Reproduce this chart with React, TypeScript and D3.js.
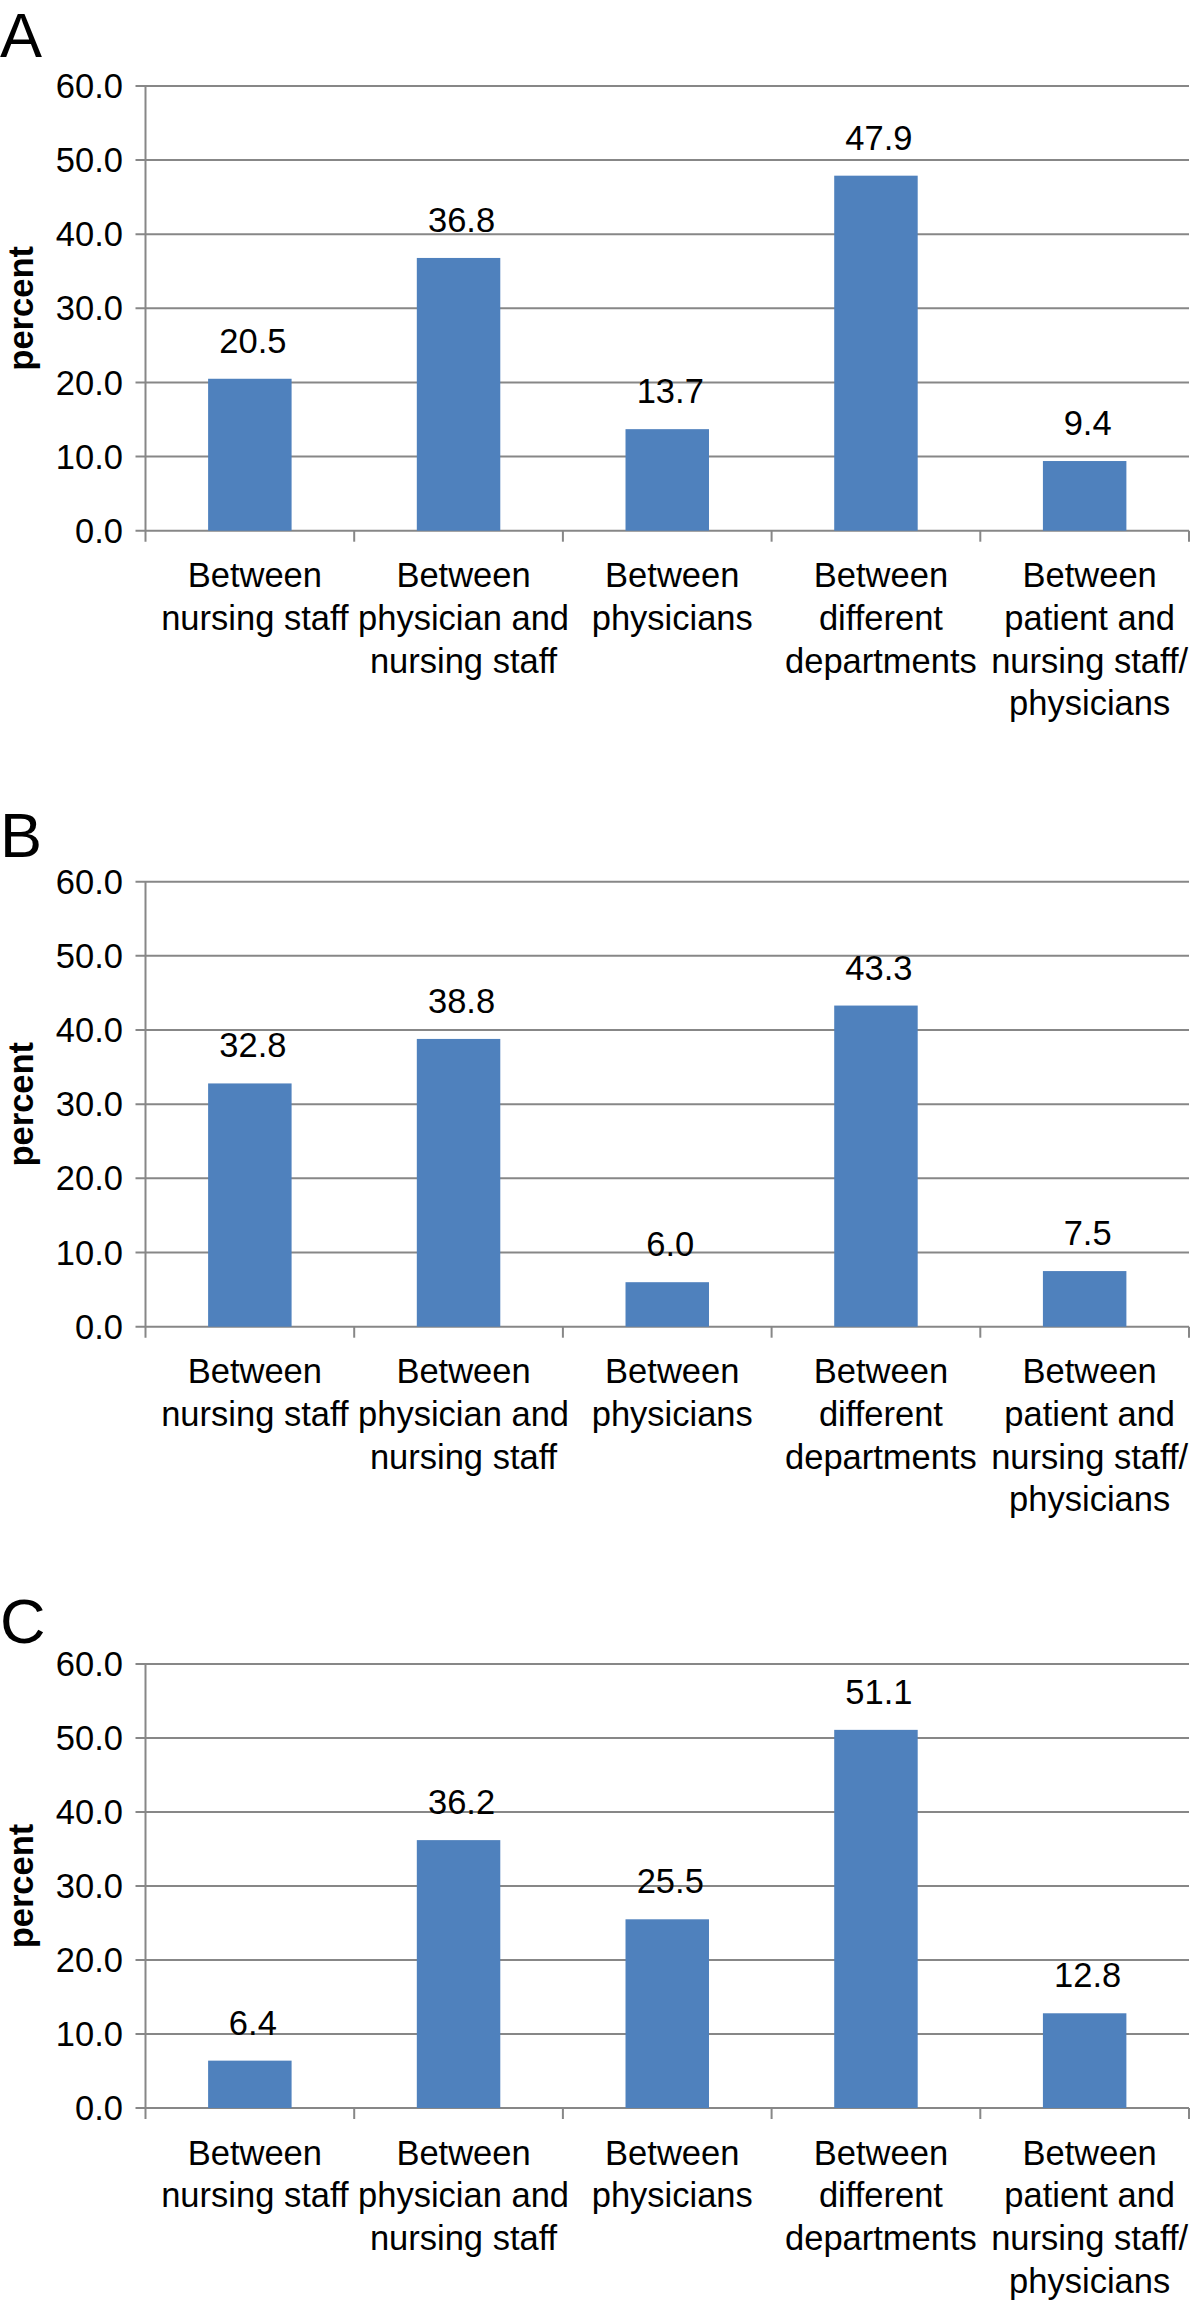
import React from "react";
import * as d3 from "d3";

const categories = ["nursing", "physNursing", "physicians", "departments", "patient"];
const categoryLines: string[][] = [
  ["Between", "nursing staff"],
  ["Between", "physician and", "nursing staff"],
  ["Between", "physicians"],
  ["Between", "different", "departments"],
  ["Between", "patient and", "nursing staff/", "physicians"],
];
const valuesA = [20.5, 36.8, 13.7, 47.9, 9.4];
const valuesB = [32.8, 38.8, 6.0, 43.3, 7.5];
const valuesC = [6.4, 36.2, 25.5, 51.1, 12.8];
const yTicks = [0, 10, 20, 30, 40, 50, 60];
const panelLetters = ["A", "B", "C"];
const yLabel = "percent";

const FONT = "'Liberation Sans', Arial, Helvetica, sans-serif";
const GRID = "#878787";
const BAR = "#4f81bd";
const FS = 34.5;

const panels = [
  { letter: panelLetters[0], values: valuesA, top: 86, zero: 530.7, letterY: 57 },
  { letter: panelLetters[1], values: valuesB, top: 881.7, zero: 1326.7, letterY: 857 },
  { letter: panelLetters[2], values: valuesC, top: 1664, zero: 2108, letterY: 1643 },
];

const X0 = 145.5;
const X1 = 1189;

function Panel({ p }: { p: typeof panels[number] }) {
  const x = d3.scaleBand<string>().domain(categories).range([X0, X1]).padding(0);
  const y = d3.scaleLinear().domain([0, 60]).range([p.zero, p.top]);
  const bw = x.bandwidth() * 0.4;
  const fmt = d3.format(".1f");
  return (
    <g>
      <text x={0} y={p.letterY} fontSize={63} fontFamily={FONT} fill="#000">
        {p.letter}
      </text>
      {yTicks.map((t) => (
        <g key={t}>
          <line x1={X0 - 10} x2={X1} y1={y(t)} y2={y(t)} stroke={GRID} strokeWidth={2} />
          <text
            x={123}
            y={y(t)}
            dy="0.35em"
            textAnchor="end"
            fontSize={FS}
            fontFamily={FONT}
            fill="#000"
          >
            {fmt(t)}
          </text>
        </g>
      ))}
      <line x1={X0} x2={X0} y1={p.top} y2={p.zero + 11} stroke={GRID} strokeWidth={2} />
      {categories.map((c) => (
        <line
          key={"tk" + c}
          x1={(x(c) as number) + x.bandwidth()}
          x2={(x(c) as number) + x.bandwidth()}
          y1={p.zero}
          y2={p.zero + 11}
          stroke={GRID}
          strokeWidth={2}
        />
      ))}
      {categories.map((c, i) => {
        const cx = (x(c) as number) + x.bandwidth() / 2;
        const v = p.values[i];
        return (
          <g key={"b" + c}>
            <rect x={cx - bw / 2} y={y(v)} width={bw} height={p.zero - y(v)} fill={BAR} />
            <text
              x={cx + 3}
              y={y(v) - 26}
              textAnchor="middle"
              fontSize={FS}
              fontFamily={FONT}
              fill="#000"
            >
              {fmt(v)}
            </text>
            {categoryLines[i].map((ln, j) => (
              <text
                key={j}
                x={cx + 5}
                y={p.zero + 56.6 + j * 42.7}
                textAnchor="middle"
                fontSize={FS}
                fontFamily={FONT}
                fill="#000"
              >
                {ln}
              </text>
            ))}
          </g>
        );
      })}
      <text
        transform={`translate(33,${(p.top + p.zero) / 2}) rotate(-90)`}
        textAnchor="middle"
        fontSize={FS}
        fontWeight="bold"
        fontFamily={FONT}
        fill="#000"
      >
        {yLabel}
      </text>
    </g>
  );
}

export default function App() {
  return (
    <svg
      width={1200}
      height={2303}
      viewBox="0 0 1200 2303"
      style={{ position: "absolute", left: 0, top: 0, background: "#fff" }}
    >
      <rect x={0} y={0} width={1200} height={2303} fill="#fff" />
      {panels.map((p) => (
        <Panel key={p.letter} p={p} />
      ))}
    </svg>
  );
}
